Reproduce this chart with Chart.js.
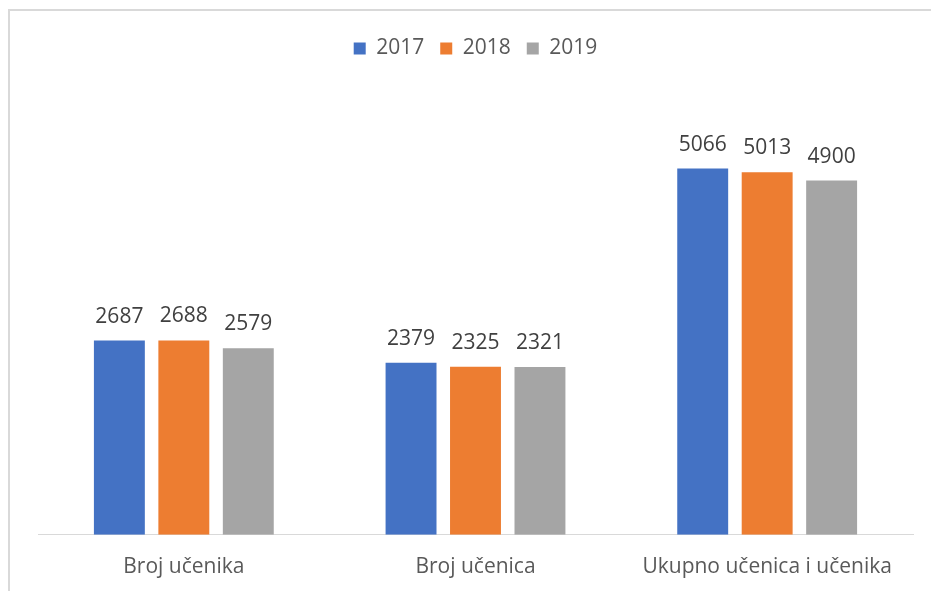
<!DOCTYPE html>
<html lang="hr">
<head>
  <meta charset="UTF-8">
  <title>Broj učenika i učenica</title>
  <script src="https://cdn.jsdelivr.net/npm/chart.js"></script>
  <style>
    html, body {
      margin: 0;
      padding: 0;
      background: #fff;
      overflow: hidden;
    }

    .frame {
      position: absolute;
      left: 8px;
      top: 9px;
      width: 1200px;
      height: 1200px;
      border: 2px solid #d9d9d9;
    }

    .chart-box {
      position: absolute;
      left: 0;
      top: 0;
      width: 931px;
      height: 600px;
    }
  </style>
</head>
<body>

  <div class="frame"></div>
  <div class="chart-box">
    <canvas id="studentChart" width="931" height="600"></canvas>
  </div>

  <script>
    const categories = ["Broj učenika", "Broj učenica", "Ukupno učenica i učenika"];
    const years = ["2017", "2018", "2019"];
    const values2017 = [2687, 2379, 5066];
    const values2018 = [2688, 2325, 5013];
    const values2019 = [2579, 2321, 4900];
    const colors = ["#4472C4", "#ED7D31", "#A5A5A5"];

    const FONT = "'Open Sans', sans-serif";

    const datasets = [values2017, values2018, values2019].map((vals, i) => ({
      label: years[i],
      data: vals,
      backgroundColor: colors[i],
      borderWidth: 0,
      categoryPercentage: 0.663,
      barPercentage: 0.79
    }));

    // value above every bar
    const valueLabels = {
      id: "valueLabels",
      afterDatasetsDraw(chart) {
        const ctx = chart.ctx;
        ctx.save();
        ctx.font = "21px " + FONT;
        ctx.fillStyle = "#404040";
        ctx.textAlign = "center";
        ctx.textBaseline = "alphabetic";
        chart.data.datasets.forEach((ds, di) => {
          chart.getDatasetMeta(di).data.forEach((bar, i) => {
            ctx.fillText(ds.data[i], bar.x, bar.y - 18);
          });
        });
        ctx.restore();
      }
    };

    // extra room under the legend
    const legendGap = {
      id: "legendGap",
      beforeInit(chart) {
        const fit = chart.legend.fit;
        chart.legend.fit = function () {
          fit.bind(chart.legend)();
          this.height += 32;
        };
      }
    };

    new Chart(document.getElementById("studentChart"), {
      type: "bar",
      data: {
        labels: categories,
        datasets
      },
      plugins: [valueLabels, legendGap],
      options: {
        responsive: false,
        animation: false,
        layout: {
          padding: { left: 38, right: 18, top: 22, bottom: 0 }
        },
        plugins: {
          legend: {
            position: "top",
            labels: {
              boxWidth: 12,
              boxHeight: 12,
              padding: 16,
              color: "#595959",
              font: { family: FONT, size: 21 }
            }
          },
          tooltip: { enabled: false }
        },
        scales: {
          x: {
            grid: { display: false, drawTicks: false },
            border: { display: true, color: "#d9d9d9", width: 1 },
            ticks: {
              padding: 20,
              color: "#595959",
              font: { family: FONT, size: 21 }
            }
          },
          y: {
            display: false,
            min: 0,
            max: 6000
          }
        }
      }
    });
  </script>
</body>
</html>
